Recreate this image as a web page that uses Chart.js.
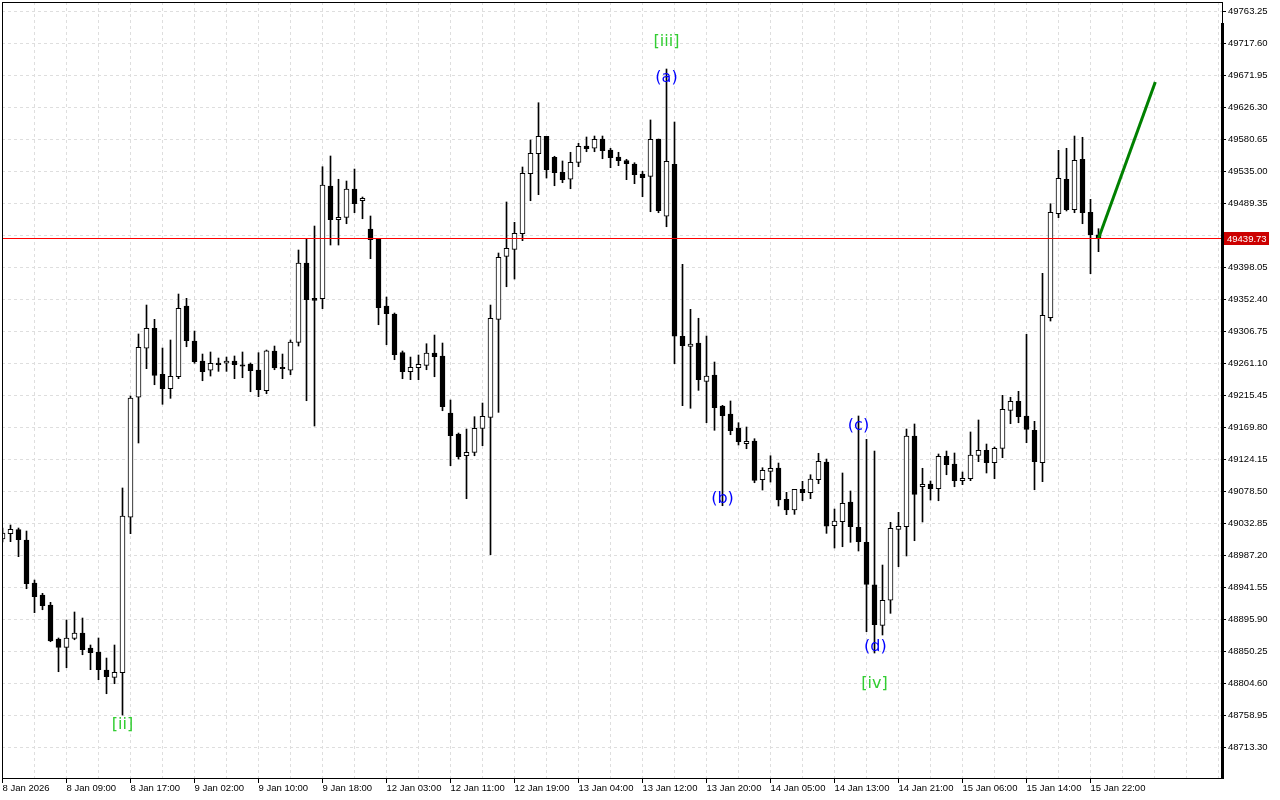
<!DOCTYPE html>
<html>
<head>
<meta charset="utf-8">
<title>US30 H1</title>
<script src="https://cdn.jsdelivr.net/npm/chart.js@4.4.1/dist/chart.umd.min.js"></script>
<style>
  html, body { margin: 0; padding: 0; background: #fff; }
  #wrap { width: 1280px; height: 800px; }
</style>
</head>
<body>
<div id="wrap"><canvas id="chart" width="1280" height="800"></canvas></div>
<script>
// hourly candles, 8 Jan 2026 -> 15 Jan 2026
const opens = [
  49011.0, 49018.6, 49024.3, 49009.6, 48948.2, 48931.1, 48916.9, 48868.3, 48856.5, 48869.3,
  48876.9, 48855.5, 48849.8, 48824.1, 48813.7, 48820.3, 49042.0, 49213.2, 49283.1, 49311.6,
  49246.0, 49225.4, 49242.5, 49343.4, 49293.5, 49264.9, 49251.7, 49262.1, 49261.7, 49264.9,
  49259.2, 49260.7, 49252.1, 49222.6, 49279.2, 49256.0, 49251.7, 49291.6, 49404.7, 49354.4,
  49353.8, 49514.6, 49466.5, 49469.9, 49510.3, 49493.6, 49453.3, 49439.4, 49343.4, 49332.0,
  49276.8, 49249.7, 49255.4, 49258.8, 49276.4, 49272.1, 49190.8, 49160.8, 49129.8, 49134.7,
  49168.9, 49184.6, 49324.4, 49414.3, 49424.3, 49446.5, 49532.1, 49560.7, 49585.5, 49555.5,
  49534.1, 49524.2, 49548.4, 49571.7, 49568.4, 49581.6, 49566.0, 49556.0, 49550.7, 49546.0,
  49531.7, 49528.4, 49581.6, 49471.4, 49545.5, 49300.2, 49285.9, 49290.6, 49236.0, 49245.0,
  49200.7, 49189.3, 49169.4, 49147.0, 49150.8, 49095.6, 49107.6, 49112.3, 49067.6, 49052.4,
  49081.9, 49077.1, 49095.6, 49120.9, 49030.0, 49035.7, 49063.8, 49027.7, 49006.3, 48945.8,
  48887.9, 48923.6, 49024.8, 49028.6, 49157.9, 49085.6, 49089.5, 49082.8, 49129.0, 49118.0,
  49094.2, 49097.0, 49130.4, 49137.5, 49119.9, 49140.4, 49194.6, 49207.4, 49186.5, 49166.1,
  49119.9, 49326.7, 49475.1, 49524.2, 49480.8, 49552.7, 49477.1, 49445.1
];
const highs = [
  49026.7, 49031.0, 49026.7, 49022.4, 48952.5, 48933.5, 48920.7, 48869.8, 48895.5, 48906.9,
  48898.3, 48859.8, 48869.8, 48841.2, 48859.8, 49083.8, 49215.0, 49303.5, 49344.8, 49324.4,
  49283.5, 49294.9, 49360.5, 49354.4, 49307.7, 49274.9, 49277.8, 49269.2, 49270.6, 49272.1,
  49277.8, 49262.1, 49276.8, 49280.6, 49286.3, 49274.9, 49294.9, 49423.3, 49439.0, 49457.5,
  49542.1, 49557.4, 49524.2, 49521.7, 49538.8, 49498.9, 49471.8, 49439.4, 49356.2, 49333.4,
  49279.2, 49270.6, 49273.5, 49289.6, 49302.0, 49290.6, 49209.3, 49162.2, 49167.9, 49185.5,
  49205.0, 49344.8, 49419.0, 49491.8, 49462.8, 49541.7, 49580.2, 49633.4, 49585.5, 49557.0,
  49550.3, 49562.7, 49575.5, 49584.5, 49585.9, 49585.9, 49568.4, 49562.7, 49552.7, 49547.8,
  49535.6, 49608.8, 49581.6, 49681.5, 49605.9, 49402.9, 49338.7, 49325.9, 49300.6, 49263.5,
  49201.7, 49207.9, 49176.9, 49170.8, 49154.1, 49112.7, 49129.8, 49119.4, 49077.6, 49081.9,
  49093.3, 49102.7, 49133.3, 49125.1, 49053.8, 49105.2, 49079.5, 49186.5, 49153.2, 49136.5,
  48973.9, 49034.8, 49049.1, 49167.9, 49175.1, 49111.9, 49093.8, 49132.3, 49136.5, 49133.7,
  49106.6, 49163.7, 49180.8, 49146.5, 49142.3, 49216.0, 49213.2, 49221.7, 49303.0, 49178.9,
  49390.0, 49489.3, 49565.5, 49568.4, 49585.9, 49584.1, 49495.6, 49453.7
];
const lows = [
  49006.7, 49007.2, 48985.8, 48940.1, 48905.9, 48910.1, 48864.5, 48821.7, 48827.4, 48867.3,
  48845.9, 48824.6, 48810.3, 48790.3, 48804.6, 48759.9, 49018.6, 49148.0, 49254.0, 49231.1,
  49203.2, 49211.7, 49239.7, 49285.3, 49261.7, 49236.8, 49243.5, 49250.2, 49250.2, 49239.7,
  49241.1, 49221.1, 49214.0, 49218.3, 49252.5, 49239.7, 49245.4, 49286.3, 49208.3, 49172.2,
  49339.6, 49430.4, 49430.4, 49460.8, 49476.5, 49467.9, 49410.9, 49316.7, 49288.2, 49266.8,
  49239.7, 49238.3, 49238.3, 49252.5, 49242.5, 49194.0, 49115.6, 49125.1, 49068.5, 49129.8,
  49144.1, 48988.6, 49191.7, 49370.9, 49381.9, 49436.6, 49493.6, 49502.2, 49526.0, 49515.0,
  49519.3, 49510.7, 49542.1, 49563.5, 49563.5, 49553.5, 49540.7, 49543.6, 49523.6, 49517.9,
  49499.3, 49477.9, 49476.5, 49456.5, 49261.1, 49201.2, 49197.5, 49223.1, 49176.9, 49166.1,
  49058.5, 49159.8, 49145.1, 49139.8, 49091.3, 49080.9, 49092.3, 49058.1, 49045.7, 49046.2,
  49065.6, 49068.5, 49089.9, 49019.1, 48998.2, 49000.0, 49006.3, 48993.9, 48878.8, 48848.4,
  48874.1, 48905.0, 48971.5, 48986.8, 49008.6, 49035.3, 49066.6, 49065.6, 49102.7, 49085.6,
  49088.5, 49094.2, 49121.3, 49105.2, 49097.0, 49127.0, 49175.5, 49176.9, 49148.4, 49081.3,
  49092.8, 49322.0, 49469.4, 49479.0, 49476.5, 49460.8, 49389.5, 49420.9
];
const closes = [
  49019.6, 49024.8, 49010.0, 48947.2, 48928.7, 48915.9, 48865.5, 48856.5, 48869.8, 48876.9,
  48853.1, 48848.8, 48824.6, 48814.6, 48820.8, 49043.8, 49212.2, 49284.5, 49311.6, 49244.5,
  49225.4, 49243.1, 49340.1, 49293.9, 49263.9, 49249.7, 49261.7, 49259.7, 49264.9, 49259.7,
  49257.8, 49251.1, 49224.0, 49279.6, 49255.0, 49254.0, 49292.0, 49404.7, 49352.4, 49351.5,
  49516.0, 49466.5, 49469.9, 49510.3, 49489.3, 49497.0, 49438.0, 49341.0, 49332.4, 49273.9,
  49249.7, 49256.0, 49260.2, 49276.4, 49271.1, 49199.7, 49158.4, 49128.4, 49134.7, 49168.9,
  49186.0, 49325.9, 49412.9, 49425.7, 49447.1, 49532.7, 49561.2, 49585.5, 49537.9, 49533.6,
  49523.6, 49548.4, 49571.2, 49567.8, 49581.2, 49565.0, 49555.0, 49550.7, 49546.4, 49530.7,
  49526.4, 49581.2, 49479.4, 49549.8, 49300.2, 49286.8, 49289.2, 49238.3, 49243.5, 49198.3,
  49186.9, 49165.5, 49149.8, 49150.4, 49094.7, 49109.0, 49111.9, 49066.6, 49052.4, 49081.9,
  49077.1, 49096.6, 49121.9, 49029.5, 49036.7, 49061.9, 49028.6, 49007.2, 48946.4, 48888.7,
  48923.6, 49026.3, 49029.1, 49157.9, 49074.8, 49089.0, 49082.8, 49129.0, 49117.0, 49094.2,
  49097.6, 49130.8, 49137.5, 49119.9, 49140.4, 49196.0, 49207.4, 49185.5, 49167.5, 49121.3,
  49330.1, 49477.1, 49525.6, 49480.8, 49551.3, 49476.5, 49445.1, 49439.73
];

const xLabels = [
  '8 Jan 2026', '8 Jan 09:00', '8 Jan 17:00', '9 Jan 02:00', '9 Jan 10:00', '9 Jan 18:00',
  '12 Jan 03:00', '12 Jan 11:00', '12 Jan 19:00', '13 Jan 04:00', '13 Jan 12:00', '13 Jan 20:00',
  '14 Jan 05:00', '14 Jan 13:00', '14 Jan 21:00', '15 Jan 06:00', '15 Jan 14:00', '15 Jan 22:00'
];
const yTicks = [
  49763.25, 49717.60, 49671.95, 49626.30, 49580.65, 49535.00, 49489.35, 49443.70,
  49398.05, 49352.40, 49306.75, 49261.10, 49215.45, 49169.80, 49124.15, 49078.50,
  49032.85, 48987.20, 48941.55, 48895.90, 48850.25, 48804.60, 48758.95, 48713.30
];

const bidPrice = 49439.73;

// wave marks
const waveText  = ['[ii]', '[iii]', '(a)', '(b)', '(c)', '(d)', '[iv]'];
const waveIdx   = [15, 83, 83, 90, 107, 109.1, 109];
const wavePrice = [48748.5, 49722.9, 49671.5, 49070.9, 49175.1, 48859.8, 48807.0];
const waveColor = ['#32cd32', '#32cd32', '#0000ff', '#0000ff', '#0000ff', '#0000ff', '#32cd32'];

// forecast arrow
const arrowIdx   = [137, 144.1];
const arrowPrice = [49439.73, 49663.0];

const bodies = opens.map((o, i) => {
  let lo = Math.min(o, closes[i]);
  let hi = Math.max(o, closes[i]);
  if (hi - lo < 2) {
    const m = (hi + lo) / 2;
    lo = m - 1;
    hi = m + 1;
  }
  return { x: i, y: [lo, hi] };
});
const bodyColors = opens.map((o, i) => closes[i] >= o ? '#ffffff' : '#000000');
const wicks = lows.map((l, i) => ({ x: i, y: [l, highs[i]] }));

const AXIS_FONT = '"Liberation Sans", Arial, sans-serif';

const overlay = {
  id: 'overlay',
  afterDatasetsDraw(chart) {
    const { ctx, chartArea: a, scales: { y } } = chart;
    const py = Math.round(y.getPixelForValue(bidPrice)) + 0.5;
    ctx.save();
    ctx.setLineDash([]);
    ctx.strokeStyle = '#ff0000';
    ctx.lineWidth = 1;
    ctx.beginPath();
    ctx.moveTo(a.left, py);
    ctx.lineTo(a.right, py);
    ctx.stroke();
    ctx.restore();
  },
  afterDraw(chart) {
    const { ctx, chartArea: a, scales: { x, y } } = chart;
    ctx.save();

    // frame
    ctx.strokeStyle = '#000';
    ctx.lineWidth = 1;
    ctx.strokeRect(a.left + 0.5, a.top + 0.5, a.right - a.left, a.bottom - a.top);
    ctx.fillStyle = '#000';
    ctx.fillRect(a.right - 1, a.top + 21, 3, a.bottom - a.top - 20);

    // bid label
    const py = Math.round(y.getPixelForValue(bidPrice));
    ctx.fillStyle = '#cc0000';
    ctx.fillRect(a.right + 2, py - 6, 45, 13);
    ctx.fillStyle = '#fff';
    ctx.font = '9.5px ' + AXIS_FONT;
    ctx.textAlign = 'left';
    ctx.textBaseline = 'middle';
    ctx.fillText(bidPrice.toFixed(2), a.right + 5, py + 1);

    // wave labels
    ctx.font = '16px "DejaVu Sans", sans-serif';
    ctx.textAlign = 'center';
    waveText.forEach((t, i) => {
      ctx.fillStyle = waveColor[i];
      ctx.fillText(t, x.getPixelForValue(waveIdx[i]), y.getPixelForValue(wavePrice[i]) + 2);
    });
    ctx.restore();
  }
};

Chart.defaults.font.family = AXIS_FONT;
Chart.defaults.font.size = 9.5;
Chart.defaults.color = '#000';

new Chart(document.getElementById('chart'), {
  type: 'bar',
  data: {
    datasets: [
      {
        type: 'line',
        data: arrowIdx.map((v, i) => ({ x: v, y: arrowPrice[i] })),
        borderColor: '#008000',
        borderWidth: 3,
        pointRadius: 0,
        order: 0
      },
      {
        data: bodies,
        backgroundColor: bodyColors,
        borderColor: '#000',
        borderWidth: 1,
        borderSkipped: false,
        barThickness: 5,
        grouped: false,
        order: 1
      },
      {
        data: wicks,
        backgroundColor: '#000',
        borderWidth: 0,
        barThickness: 1,
        grouped: false,
        order: 2
      }
    ]
  },
  options: {
    responsive: false,
    animation: false,
    events: [],
    layout: { padding: { left: 2, top: 2, right: 0, bottom: 0 } },
    plugins: { legend: { display: false }, tooltip: { enabled: false } },
    scales: {
      x: {
        type: 'linear',
        min: -0.0625,
        max: 152.4375,
        offset: false,
        afterBuildTicks: axis => {
          const t = [];
          for (let v = 0; v <= 152; v += 4) t.push({ value: v });
          axis.ticks = t;
        },
        afterFit: axis => {
          axis.height = 22;
          axis.paddingLeft = 0;
          axis.paddingRight = 0;
        },
        grid: {
          offset: false,
          color: '#dedede',
          tickLength: 5,
          tickColor: ctx => (ctx.tick && ctx.tick.value % 8 === 0 && ctx.tick.value / 8 < xLabels.length)
            ? '#000' : 'rgba(0,0,0,0)'
        },
        border: { display: false, dash: [3, 3] },
        ticks: {
          autoSkip: false,
          maxRotation: 0,
          align: 'start',
          padding: 0,
          callback: v => v % 8 === 0 ? (xLabels[v / 8] || '') : ''
        }
      },
      y: {
        position: 'right',
        min: 48670.08,
        max: 49777.09,
        afterBuildTicks: axis => { axis.ticks = yTicks.map(v => ({ value: v })); },
        afterFit: axis => {
          axis.width = 58;
          axis.paddingTop = 0;
          axis.paddingBottom = 0;
        },
        grid: { color: '#dedede', tickLength: 4, tickColor: '#000' },
        border: { display: false, dash: [3, 3] },
        ticks: {
          padding: 2,
          callback: v => v.toFixed(2)
        }
      }
    }
  },
  plugins: [overlay]
});
</script>
</body>
</html>
